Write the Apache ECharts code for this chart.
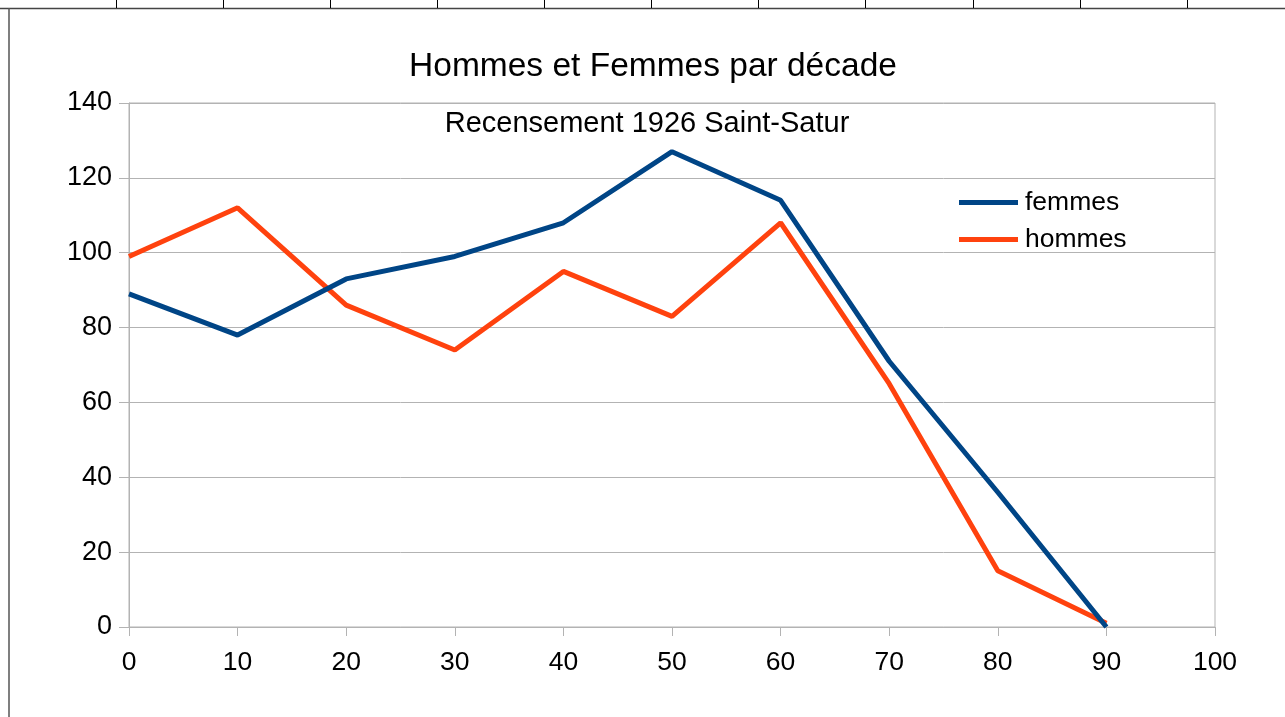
<!DOCTYPE html>
<html>
<head>
<meta charset="utf-8">
<script src="https://cdn.jsdelivr.net/npm/echarts@6/dist/echarts.min.js"></script>
<style>
  html, body { margin: 0; padding: 0; background: #fff; }
  #chart { width: 1285px; height: 717px; }
</style>
</head>
<body>
<div id="chart"></div>
<script>
// données du recensement, par décade d'âge
const decades = [0, 10, 20, 30, 40, 50, 60, 70, 80, 90];
const femmes = [89, 78, 93, 99, 108, 127, 114, 71, 36, 0];
const hommes = [99, 112, 86, 74, 95, 83, 108, 65, 15, 1];
const xTicks = [0, 10, 20, 30, 40, 50, 60, 70, 80, 90, 100];

const font = '"Liberation Sans", Arial, sans-serif';
const pairs = (xs, ys) => xs.map((x, i) => [x, ys[i]]);

// lignes du tableur au-dessus du graphique
const cellLines = [116, 223, 330, 437, 544, 651, 758, 865, 973, 1080, 1187].map(x => ({
  type: 'line',
  shape: { x1: x + 0.5, y1: 0, x2: x + 0.5, y2: 8 },
  style: { stroke: '#000', lineWidth: 1 }
}));

const chart = echarts.init(document.getElementById('chart'));
chart.setOption({
  backgroundColor: '#fff',
  animation: false,
  title: [
    {
      text: 'Hommes et Femmes par décade',
      left: 648,
      top: 45,
      textAlign: 'center',
      textStyle: { fontFamily: font, fontWeight: 'normal', fontSize: 33.5, color: '#000' }
    },
    {
      text: 'Recensement 1926 Saint-Satur',
      left: 642,
      top: 104,
      textAlign: 'center',
      textStyle: { fontFamily: font, fontWeight: 'normal', fontSize: 29, color: '#000' }
    }
  ],
  legend: {
    orient: 'vertical',
    left: 954,
    top: 184,
    itemWidth: 59,
    itemHeight: 5,
    itemGap: 10,
    icon: 'rect',
    textStyle: { fontFamily: font, fontSize: 26.5, color: '#000', padding: [0, 0, 0, 2] },
    data: ['femmes', 'hommes']
  },
  grid: {
    left: 129,
    right: 70,
    top: 103,
    bottom: 90,
    show: true,
    borderColor: '#b3b3b3',
    borderWidth: 1
  },
  xAxis: {
    type: 'value',
    min: 0,
    max: 100,
    interval: 10,
    axisLine: { show: true, lineStyle: { color: '#b3b3b3' } },
    axisTick: { show: true, length: 9, lineStyle: { color: '#b3b3b3' } },
    axisLabel: {
      fontFamily: font, fontSize: 26.5, color: '#000', margin: 22,
      formatter: v => xTicks.includes(v) ? String(v) : ''
    },
    splitLine: { show: false }
  },
  yAxis: {
    type: 'value',
    min: 0,
    max: 140,
    interval: 20,
    axisLine: { show: true, lineStyle: { color: '#b3b3b3' } },
    axisTick: { show: true, length: 10, lineStyle: { color: '#b3b3b3' } },
    axisLabel: { fontFamily: font, fontSize: 27, color: '#000', margin: 17 },
    splitLine: { show: true, lineStyle: { color: '#b3b3b3', width: 1 } }
  },
  series: [
    {
      name: 'femmes',
      type: 'line',
      data: pairs(decades, femmes),
      symbol: 'none',
      color: '#004586',
      lineStyle: { width: 5, color: '#004586' }
    },
    {
      name: 'hommes',
      type: 'line',
      data: pairs(decades, hommes),
      symbol: 'none',
      color: '#ff420e',
      lineStyle: { width: 5, color: '#ff420e' },
      z: 1
    }
  ],
  graphic: [
    {
      type: 'line',
      shape: { x1: 0, y1: 8.5, x2: 1285, y2: 8.5 },
      style: { stroke: '#444', lineWidth: 1.5 }
    },
    {
      type: 'line',
      shape: { x1: 9, y1: 8, x2: 9, y2: 717 },
      style: { stroke: '#555', lineWidth: 1.5 }
    }
  ].concat(cellLines)
});
</script>
</body>
</html>
